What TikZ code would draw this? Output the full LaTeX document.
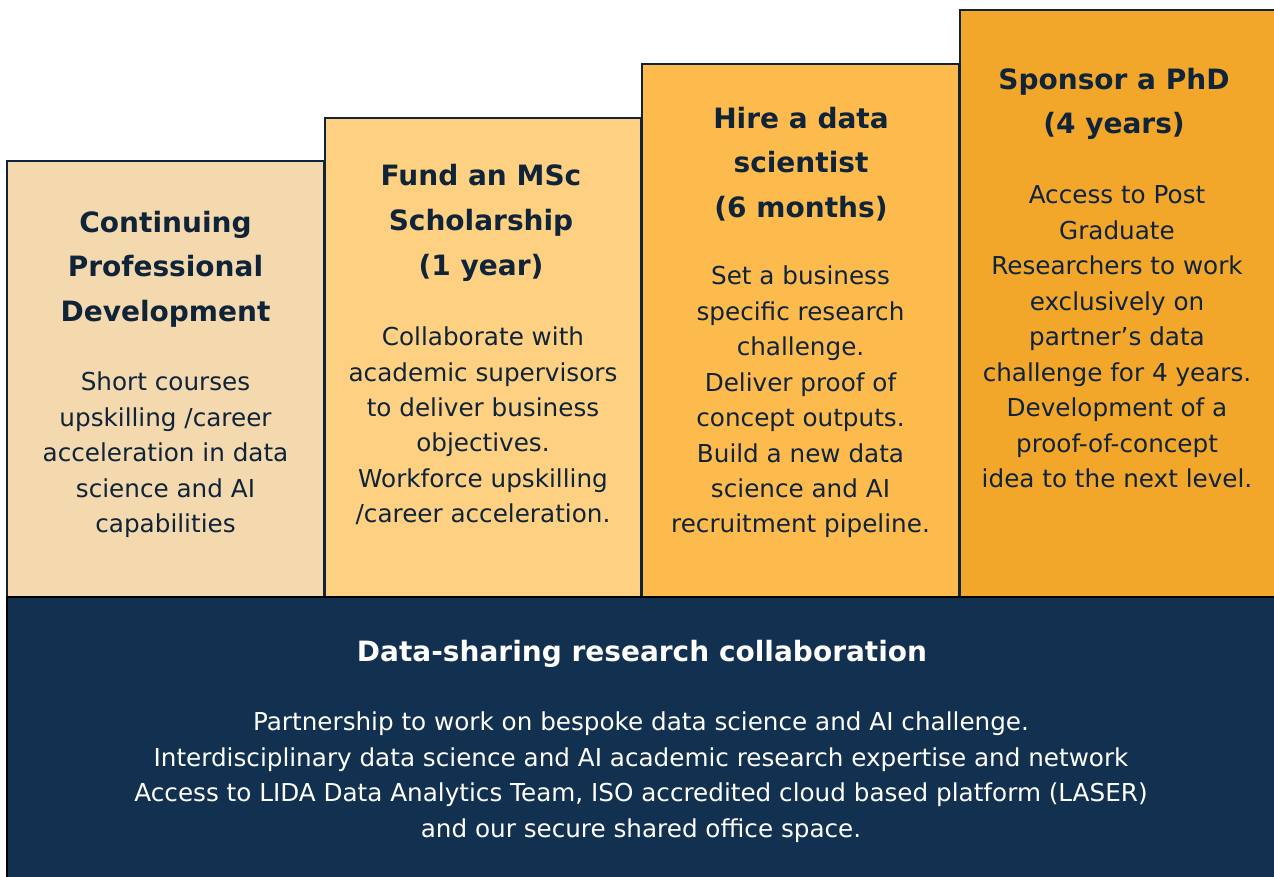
\documentclass[tikz,border=0pt]{standalone}
\usepackage{fontspec}
\setmainfont{DejaVu Sans}
\usepackage{tikz}
\usetikzlibrary{positioning}
\definecolor{navy}{HTML}{12304F}
\definecolor{ink}{HTML}{0F2339}
\definecolor{sand}{HTML}{F4D9AE}
\definecolor{peach}{HTML}{FED081}
\definecolor{amber}{HTML}{FDBB4E}
\definecolor{gold}{HTML}{F2A72A}
\tikzset{
  stepbox/.style={draw=ink, line width=1.6pt},
  steptitle/.style={text=ink, align=center, font=\bfseries\fontsize{21}{33.5}\selectfont},
  stepbody/.style={text=ink, align=center, font=\fontsize{18.5}{26.6}\selectfont},
}
\begin{document}
\begin{tikzpicture}[x=0.75pt, y=-0.75pt]
	\useasboundingbox (0,0) rectangle (1274,877);
	\fill[white] (0,0) rectangle (1274,877);
	\draw[stepbox, fill=sand](7,161) rectangle (324,597);
	\draw[stepbox, fill=peach](325,118) rectangle (641,597);
	\draw[stepbox, fill=amber](642,64) rectangle (959,597);
	\draw[stepbox, fill=gold](960,10) rectangle (1278,597);
	\draw[fill=navy, draw=black, line width=2pt](7,597) rectangle (1280,884);
	\node[steptitle] (cpd) at (165.5,269) {Continuing\\Professional\\Development};
	\node[stepbody] (cpdtext) at (165.5,455) {Short courses\\upskilling /career\\acceleration in data\\science and AI\\capabilities};
	\node[steptitle] (msc) at (481,223) {Fund an MSc\\Scholarship\\(1 year)};
	\node[stepbody] (msctext) at (483,426) {Collaborate with\\academic supervisors\\to deliver business\\objectives.\\Workforce upskilling\\/career acceleration.};
	\node[steptitle] (hire) at (801,164) {Hire a data\\scientist\\(6 months)};
	\node[stepbody] (hiretext) at (800.5,402) {Set a business\\specific research\\challenge.\\Deliver proof of\\concept outputs.\\Build a new data\\science and AI\\recruitment pipeline.};
	\node[steptitle] (phd) at (1114,104) {Sponsor a PhD\\(4 years)};
	\node[stepbody] (phdtext) at (1117,337) {Access to Post\\Graduate\\Researchers to work\\exclusively on\\partner’s data\\challenge for 4 years.\\Development of a\\proof-of-concept\\idea to the next level.};
	\node[steptitle, text=white] (collab) at (642,654) {Data-sharing research collaboration};
	\node[stepbody, text=white] (collabtext) at (641,777) {Partnership to work on bespoke data science and AI challenge.\\Interdisciplinary data science and AI academic research expertise and network\\Access to LIDA Data Analytics Team, ISO accredited cloud based platform (LASER)\\and our secure shared office space.};
\end{tikzpicture}
\end{document}
